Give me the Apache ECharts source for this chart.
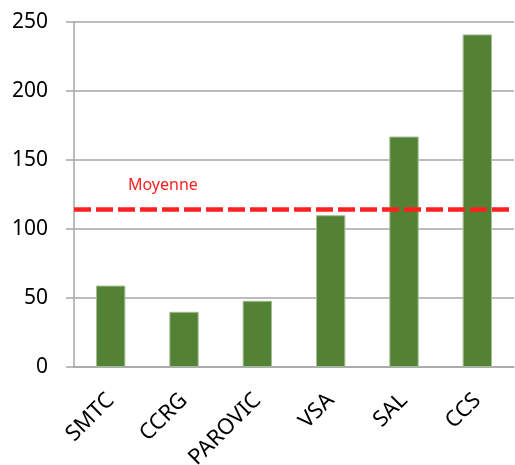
<!DOCTYPE html>
<html>
<head>
<meta charset="utf-8">
<script src="https://cdn.jsdelivr.net/npm/echarts@6/dist/echarts.min.js"></script>
<style>
  html, body { margin: 0; padding: 0; background: #fff; }
  #chart { width: 515px; height: 465px; }
</style>
</head>
<body>
<div id="chart"></div>
<script>
// Categories and values
const categories = ['SMTC', 'CCRG', 'PAROVIC', 'VSA', 'SAL', 'CCS'];
const values = [59, 40, 48, 110, 167, 241];
const meanValue = 114;
const meanLabel = 'Moyenne';
const yTicks = { min: 0, max: 250, interval: 50 };

const chart = echarts.init(document.getElementById('chart'));
const font = '"Noto Sans", sans-serif';

chart.setOption({
  animation: false,
  grid: { left: 74, right: 1, top: 22, bottom: 98, outerBoundsMode: 'none' },
  xAxis: {
    type: 'category',
    data: categories,
    axisLine: { show: true, lineStyle: { color: '#a6a6a6', width: 1.5 } },
    axisTick: { show: false },
    axisLabel: {
      rotate: 45,
      margin: 30,
      color: '#000',
      fontSize: 22,
      fontFamily: font
    }
  },
  yAxis: {
    type: 'value',
    min: yTicks.min,
    max: yTicks.max,
    interval: yTicks.interval,
    axisLine: { show: true, lineStyle: { color: '#a6a6a6', width: 1.5 } },
    axisTick: { show: true, inside: false, length: 8, lineStyle: { color: '#a6a6a6', width: 1.5 } },
    splitLine: { show: true, lineStyle: { color: '#a6a6a6', width: 1.5 } },
    axisLabel: {
      margin: 26,
      color: '#000',
      fontSize: 21,
      fontFamily: font
    }
  },
  series: [{
    type: 'bar',
    data: values,
    barWidth: '40%',
    itemStyle: { color: '#548235', borderColor: '#a3bd92', borderWidth: 1 },
    markLine: {
      silent: true,
      symbol: 'none',
      lineStyle: { color: '#ff2020', type: [17, 5], width: 4.5 },
      label: {
        show: true,
        position: 'insideStartTop',
        formatter: meanLabel,
        color: '#ff2020',
        fontSize: 16,
        fontFamily: font,
        padding: [0, 0, 11, 49]
      },
      data: [{ yAxis: meanValue }]
    }
  }]
});
</script>
</body>
</html>
